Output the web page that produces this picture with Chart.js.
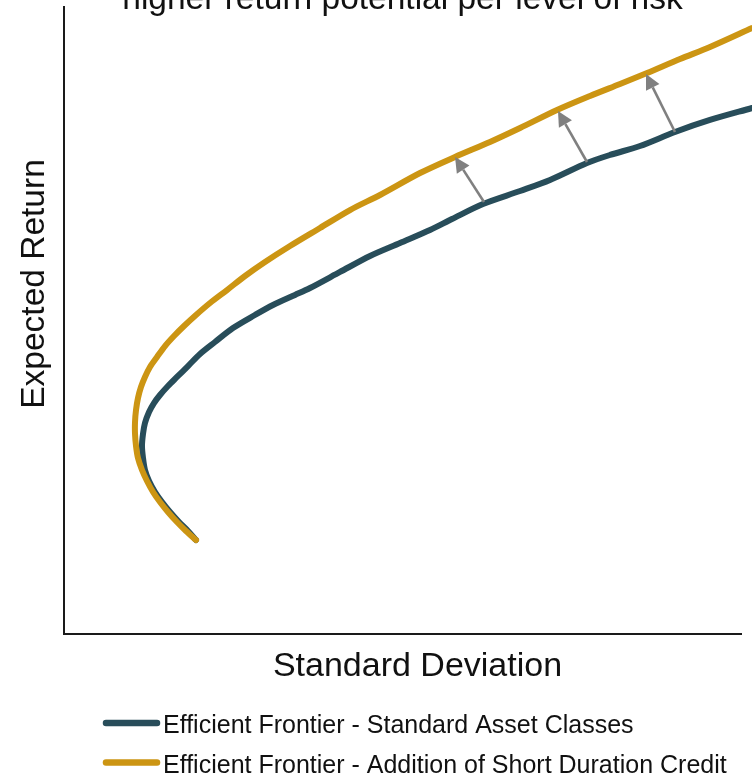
<!DOCTYPE html>
<html>
<head>
<meta charset="utf-8">
<title>Efficient Frontier</title>
<script src="https://cdn.jsdelivr.net/npm/chart.js@4.4.1/dist/chart.umd.min.js"></script>
<style>
  html, body { margin: 0; padding: 0; background: #ffffff; overflow: hidden; }
  #wrap { position: relative; width: 752px; height: 774px; }
</style>
</head>
<body>
<div id="wrap"><canvas id="chart" width="752" height="774"></canvas></div>
<script>
// Headline (last line) and axis titles
const titleText = 'higher return potential per level of risk';
const xAxisTitle = 'Standard Deviation';
const yAxisTitle = 'Expected Return';

// Series names
const seriesNames = [
  'Efficient Frontier - Standard Asset Classes',
  'Efficient Frontier - Addition of Short Duration Credit'
];

// Standard asset classes frontier: risk (x) and return (y), axis units 0-100
const standardRisk = [19.5, 18.32, 16.99, 15.66, 14.48, 13.44, 12.56, 11.96, 11.67, 11.52, 11.67, 11.96,
  12.56, 13.29, 14.18, 15.36, 16.69, 18.32, 20.09, 22.3, 24.96, 28.21, 30.87, 34.12, 36.34, 40.77,
  45.2, 49.63, 54.06, 57.31, 61.89, 67.36, 71.79, 77.25, 80.65, 85.08, 90.25, 95.42, 101.63];
const standardReturn = [14.99, 16.43, 17.86, 19.46, 21.05, 22.65, 24.4, 26.16, 28.07, 29.98, 31.9, 33.65,
  35.41, 36.84, 38.12, 39.55, 40.99, 42.74, 44.66, 46.57, 48.8, 50.88, 52.47, 54.07, 55.18, 57.74,
  60.29, 62.36, 64.43, 66.19, 68.58, 70.65, 72.41, 75.12, 76.4, 77.83, 80.06, 81.98, 83.89];

// Frontier with short duration credit added
const creditRisk = [19.5, 18.02, 16.69, 15.36, 14.18, 13.15, 12.26, 11.52, 10.93, 10.64, 10.49, 10.49,
  10.64, 10.93, 11.37, 11.96, 12.7, 13.74, 14.92, 16.25, 17.73, 19.5, 21.57, 24.08, 26.74, 29.69,
  33.38, 37.81, 42.25, 46.68, 52.59, 57.75, 62.92, 67.36, 72.82, 77.7, 82.13, 86.12, 90.99, 95.42, 101.63];
const creditReturn = [14.99, 16.43, 17.86, 19.46, 21.05, 22.65, 24.4, 26.16, 28.07, 29.98, 31.9, 33.81,
  35.73, 37.64, 39.39, 40.99, 42.58, 44.18, 45.93, 47.53, 49.12, 50.88, 52.79, 54.86, 57.1, 59.33,
  61.88, 64.75, 67.62, 70.02, 73.52, 76.08, 78.47, 80.7, 83.57, 85.81, 87.72, 89.47, 91.71, 93.62, 96.65];

// Shift arrows: from the standard frontier up to the credit frontier
const arrowFromRisk = [62.04, 77.25, 90.25];
const arrowFromReturn = [68.9, 75.28, 80.06];
const arrowToRisk = [57.76, 72.97, 85.97];
const arrowToReturn = [76.08, 83.41, 89.31];

const colors = ['#284d5a', '#cc9513'];
const FONT = '"Liberation Sans", Arial, sans-serif';

const toPoints = (xs, ys) => xs.map((x, i) => ({ x: x, y: ys[i] }));

// Gray arrows drawn through the chart scales
const arrowPlugin = {
  id: 'shiftArrows',
  afterDatasetsDraw(chart) {
    const { ctx, scales: { x, y } } = chart;
    ctx.save();
    ctx.strokeStyle = '#808080';
    ctx.fillStyle = '#808080';
    ctx.lineWidth = 2.6;
    for (let i = 0; i < arrowFromRisk.length; i++) {
      const x0 = x.getPixelForValue(arrowFromRisk[i]);
      const y0 = y.getPixelForValue(arrowFromReturn[i]);
      const x1 = x.getPixelForValue(arrowToRisk[i]);
      const y1 = y.getPixelForValue(arrowToReturn[i]);
      const ang = Math.atan2(y1 - y0, x1 - x0);
      const head = 15, half = 7.5;
      const bx = x1 - head * Math.cos(ang), by = y1 - head * Math.sin(ang);
      ctx.beginPath();
      ctx.moveTo(x0, y0);
      ctx.lineTo(bx, by);
      ctx.stroke();
      ctx.beginPath();
      ctx.moveTo(x1, y1);
      ctx.lineTo(bx + half * Math.sin(ang), by - half * Math.cos(ang));
      ctx.lineTo(bx - half * Math.sin(ang), by + half * Math.cos(ang));
      ctx.closePath();
      ctx.fill();
    }
    ctx.restore();
  }
};

// Headline, axis titles and the two-row legend
const textPlugin = {
  id: 'frontierText',
  afterDraw(chart) {
    const { ctx, chartArea: a } = chart;
    ctx.save();
    ctx.fillStyle = '#111111';
    ctx.textBaseline = 'alphabetic';

    ctx.font = '33.5px ' + FONT;
    ctx.textAlign = 'center';
    ctx.fillText(titleText, (a.left + a.right) / 2, a.top + 1.5);

    ctx.font = '34px ' + FONT;
    ctx.fillText(xAxisTitle, (a.left + a.right) / 2 + 15, a.bottom + 42);

    ctx.save();
    ctx.translate(a.left - 20.5, a.top + 277);
    ctx.rotate(-Math.PI / 2);
    ctx.font = '33.5px ' + FONT;
    ctx.fillText(yAxisTitle, 0, 0);
    ctx.restore();

    ctx.textAlign = 'left';
    ctx.font = '25px ' + FONT;
    chart.data.datasets.forEach((ds, i) => {
      const cy = 723 + i * 39.5;
      ctx.strokeStyle = ds.borderColor;
      ctx.lineWidth = 6.5;
      ctx.lineCap = 'round';
      ctx.beginPath();
      ctx.moveTo(106, cy);
      ctx.lineTo(157, cy);
      ctx.stroke();
      ctx.fillStyle = '#111111';
      ctx.fillText(ds.label, 163, cy + 10);
    });
    ctx.restore();
  }
};

new Chart(document.getElementById('chart'), {
  type: 'scatter',
  data: {
    datasets: [
      {
        label: seriesNames[0],
        data: toPoints(standardRisk, standardReturn),
        showLine: true,
        borderColor: colors[0],
        backgroundColor: colors[0],
        borderWidth: 6,
        pointRadius: 0,
        tension: 0.3,
        borderCapStyle: 'round',
        borderJoinStyle: 'round',
        clip: false,
        order: 1
      },
      {
        label: seriesNames[1],
        data: toPoints(creditRisk, creditReturn),
        showLine: true,
        borderColor: colors[1],
        backgroundColor: colors[1],
        borderWidth: 6,
        pointRadius: 0,
        tension: 0.3,
        borderCapStyle: 'round',
        borderJoinStyle: 'round',
        clip: false,
        order: 0
      }
    ]
  },
  options: {
    responsive: false,
    animation: false,
    events: [],
    layout: { padding: { top: 7, right: 11, left: 0, bottom: 0 } },
    plugins: {
      legend: { display: false },
      tooltip: { enabled: false },
      title: { display: false }
    },
    scales: {
      x: {
        type: 'linear',
        min: 0,
        max: 100,
        ticks: { display: false },
        grid: { display: false, drawTicks: false },
        border: { display: true, color: '#1a1a1a', width: 2 },
        afterFit(scale) { scale.height = 140; }
      },
      y: {
        type: 'linear',
        min: 0,
        max: 100,
        ticks: { display: false },
        grid: { display: false, drawTicks: false },
        border: { display: true, color: '#1a1a1a', width: 2 },
        afterFit(scale) { scale.width = 64; }
      }
    }
  },
  plugins: [arrowPlugin, textPlugin]
});
</script>
</body>
</html>
